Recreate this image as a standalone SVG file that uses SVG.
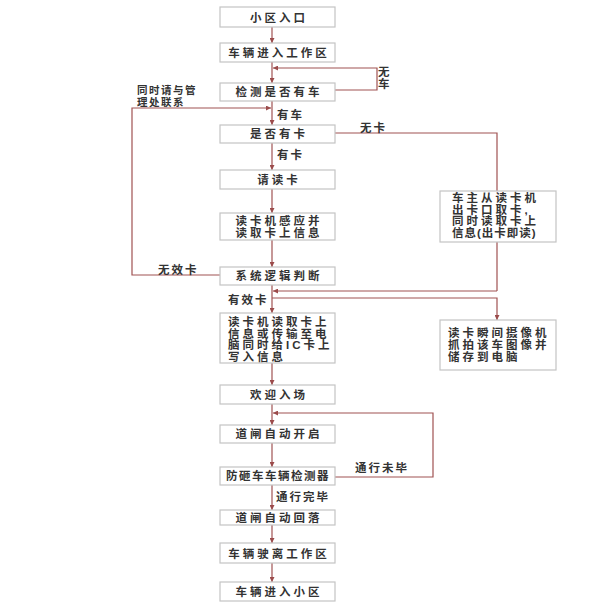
<svg xmlns="http://www.w3.org/2000/svg" width="589" height="613" viewBox="0 0 589 613">
<defs>
<marker id="ah" viewBox="0 0 6 6" refX="6" refY="3" markerWidth="5" markerHeight="5" orient="auto" markerUnits="userSpaceOnUse">
<path d="M0,0 L6,3 L0,6 z" fill="#9b4b4b"/>
</marker>
<style>
.box{fill:#fff;stroke:#c4c4c4;stroke-width:1.2}
.t{font-family:"Liberation Sans","Noto Sans CJK SC",sans-serif;font-size:11.5px;fill:#333;letter-spacing:3px;font-weight:bold}
.c{text-anchor:middle}
.lbl{font-family:"Liberation Sans","Noto Sans CJK SC",sans-serif;font-size:11.5px;fill:#333;letter-spacing:2px;font-weight:bold}
.sm{font-size:10.5px;letter-spacing:1.5px}
.ln{fill:none;stroke:#a05252;stroke-width:1.2}
.ar{marker-end:url(#ah)}
</style>
</defs>
<rect width="589" height="613" fill="#fff"/>
<g id="connectors">
<line class="ln ar" x1="272" y1="27" x2="272" y2="43"/>
<line class="ln ar" x1="272" y1="62" x2="272" y2="83"/>
<polyline class="ln ar" points="335,90 377,90 377,68 273,68"/>
<line class="ln ar" x1="272" y1="101" x2="272" y2="125"/>
<polyline class="ln ar" points="220,275 132,275 132,108 271,108"/>
<line class="ln ar" x1="272" y1="143" x2="272" y2="170"/>
<line class="ln ar" x1="272" y1="189" x2="272" y2="213"/>
<line class="ln ar" x1="272" y1="240" x2="272" y2="267"/>
<polyline class="ln" points="335,133 497,133 497,291"/>
<polyline class="ln ar" points="497,291 273,291"/>
<line class="ln ar" x1="272" y1="285" x2="272" y2="313"/>
<polyline class="ln ar" points="272,298 497,298 497,320"/>
<line class="ln ar" x1="272" y1="363" x2="272" y2="385"/>
<line class="ln ar" x1="272" y1="404" x2="272" y2="425"/>
<polyline class="ln ar" points="335,477 433,477 433,413 273,413"/>
<line class="ln ar" x1="272" y1="443" x2="272" y2="467"/>
<line class="ln ar" x1="272" y1="485" x2="272" y2="510"/>
<line class="ln ar" x1="272" y1="525" x2="272" y2="543"/>
<line class="ln ar" x1="272" y1="563" x2="272" y2="582"/>
</g>
<g id="n1"><rect class="box" x="220" y="7" width="115" height="20"/><text class="t c" x="279" y="22">小区入口</text></g>
<g id="n2"><rect class="box" x="220" y="43" width="115" height="19"/><text class="t c" x="279" y="57">车辆进入工作区</text></g>
<g id="n3"><rect class="box" x="220" y="83" width="115" height="18"/><text class="t c" x="279" y="96">检测是否有车</text></g>
<g id="n4"><rect class="box" x="220" y="125" width="115" height="18"/><text class="t c" x="279" y="138">是否有卡</text></g>
<g id="n5"><rect class="box" x="220" y="170" width="115" height="19"/><text class="t c" x="279" y="184">请读卡</text></g>
<g id="n6"><rect class="box" x="220" y="213" width="115" height="27"/><text class="t c" x="279" y="225">读卡机感应并</text><text class="t c" x="279" y="237">读取卡上信息</text></g>
<g id="n7"><rect class="box" x="220" y="267" width="115" height="18"/><text class="t c" x="279" y="280">系统逻辑判断</text></g>
<g id="n8"><rect class="box" x="220" y="313" width="115" height="50"/><text class="t" x="228" y="326">读卡机读取卡上</text><text class="t" x="228" y="337.5">信息或传输至电</text><text class="t" x="228" y="349">脑同时给IC卡上</text><text class="t" x="228" y="360.5">写入信息</text></g>
<g id="n9"><rect class="box" x="220" y="385" width="115" height="19"/><text class="t c" x="279" y="399">欢迎入场</text></g>
<g id="n10"><rect class="box" x="220" y="425" width="115" height="18"/><text class="t c" x="279" y="438">道闸自动开启</text></g>
<g id="n11"><rect class="box" x="220" y="467" width="115" height="18"/><text class="t c" x="278" y="480" style="letter-spacing:1.5px">防砸车车辆检测器</text></g>
<g id="n12"><rect class="box" x="220" y="510" width="115" height="15"/><text class="t c" x="279" y="522">道闸自动回落</text></g>
<g id="n13"><rect class="box" x="220" y="543" width="115" height="20"/><text class="t c" x="279" y="558">车辆驶离工作区</text></g>
<g id="n14"><rect class="box" x="220" y="582" width="115" height="19"/><text class="t c" x="279" y="596">车辆进入小区</text></g>
<g id="r1"><rect class="box" x="440" y="191" width="116" height="51"/><text class="t" x="452" y="202">车主从读卡机</text><text class="t" x="452" y="213.5">出卡口取卡,</text><text class="t" x="452" y="225">同时读取卡上</text><text class="t" x="452" y="236.5" style="letter-spacing:1px">信息(出卡即读)</text></g>
<g id="r2"><rect class="box" x="440" y="320" width="116" height="50"/><text class="t" x="448" y="337">读卡瞬间摄像机</text><text class="t" x="448" y="349">抓拍该车图像并</text><text class="t" x="448" y="361">储存到电脑</text></g>
<g id="labels">
<text class="lbl" x="378" y="76">无</text><text class="lbl" x="378" y="88">车</text>
<text class="lbl sm" x="137" y="94">同时请与管</text><text class="lbl sm" x="137" y="105.5">理处联系</text>
<text class="lbl" x="277" y="119">有车</text>
<text class="lbl" x="360" y="132">无卡</text>
<text class="lbl" x="277" y="159">有卡</text>
<text class="lbl" x="158" y="274">无效卡</text>
<text class="lbl" x="228" y="304">有效卡</text>
<text class="lbl" x="355" y="472">通行未毕</text>
<text class="lbl" x="276" y="501">通行完毕</text>
</g>
</svg>
